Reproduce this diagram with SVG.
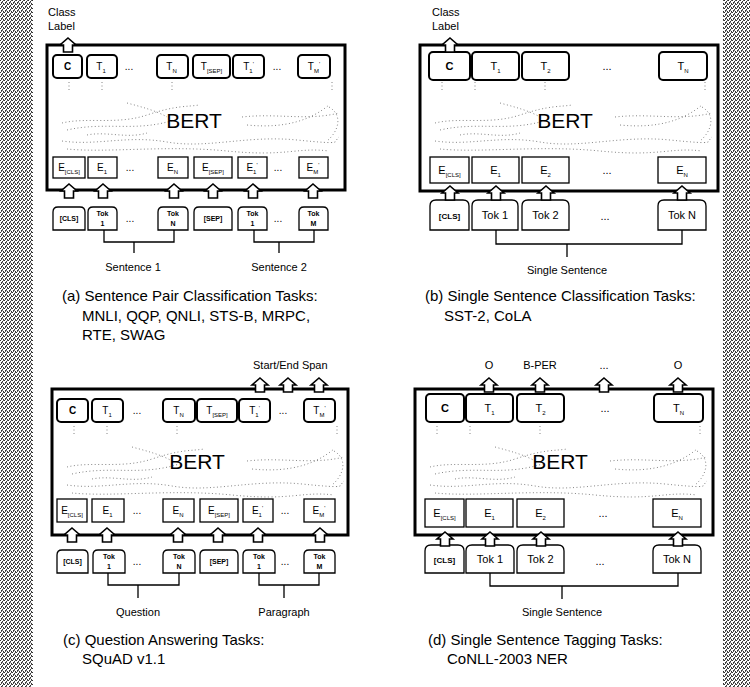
<svg xmlns="http://www.w3.org/2000/svg" width="750" height="687" viewBox="0 0 750 687">
<style>
text{font-family:"Liberation Sans",Arial,Helvetica,sans-serif;fill:#000}
.c{text-anchor:middle}
.l{font-size:11px}
.m{font-size:10px}
.t{font-size:7px;font-weight:bold}
.s{font-size:6px}
.cap{font-size:15px}
.bert{font-size:21px;text-anchor:middle}
.outer{fill:#fff;stroke:#000;stroke-width:3}
.tb{fill:#fff;stroke:#000;stroke-width:2}
.eb{fill:#fff;stroke:#000;stroke-width:1.3}
.tk{fill:#fff;stroke:#000;stroke-width:1.3}
.br{fill:none;stroke:#000;stroke-width:1.3}
.dots{fill:none;stroke:#777;stroke-width:0.9;stroke-dasharray:1 2.5}
.arr{fill:#fff;stroke:#000;stroke-width:1.6;stroke-linejoin:miter}
</style>
<defs>
<pattern id="stip" width="4" height="4" patternUnits="userSpaceOnUse">
<rect width="4" height="4" fill="#fff"/>
<rect x="0" y="0" width="1" height="1" fill="#333"/>
<rect x="2" y="1" width="1" height="1" fill="#333"/>
<rect x="1" y="2" width="1" height="1" fill="#333"/>
<rect x="3" y="3" width="1" height="1" fill="#333"/>
<rect x="3" y="0" width="1" height="1" fill="#555"/>
<rect x="1" y="3" width="1" height="1" fill="#555"/>
<rect x="2" y="2" width="1" height="1" fill="#777"/>
</pattern>
<path id="up" class="arr" d="M0,0 L8,7 L4.5,7 L4.5,14 L-4.5,14 L-4.5,7 L-8,7 Z"/>
<g id="bertdots" class="dots">
<path d="M22,37 V47 M55,37 V47 M125,37 V47 M285,37 V47"/>
<path d="M15,78 C40,72 70,80 100,70 S140,62 152,60"/>
<path d="M20,85 C60,76 90,88 130,74"/>
<path d="M80,58 C95,62 110,66 120,72"/>
<path d="M195,72 C230,68 260,76 292,68"/>
<path d="M200,80 C240,84 265,74 282,60"/>
<path d="M282,62 C296,70 292,86 280,96"/>
<path d="M15,96 C50,101 80,90 120,97 S200,90 250,95 S285,97 292,92"/>
<path d="M20,104 C60,108 120,100 180,106 S250,102 282,106"/>
<path d="M40,90 C60,86 80,94 100,88"/>
</g>
</defs>

<rect x="0" y="0" width="33" height="687" fill="url(#stip)"/>
<rect x="723" y="0" width="27" height="687" fill="url(#stip)"/>

<!-- Panel A -->
<g id="panel-a">
<rect id="a-bert" class="outer" x="47" y="45" width="298" height="145"/>
<use href="#bertdots" transform="translate(47,45)"/>
<text class="bert" x="194" y="128">BERT</text>
<text class="l" x="48" y="16">Class</text>
<text class="l" x="48" y="30">Label</text>
<g id="a-C"><rect class="tb" x="53" y="55" width="29" height="23" rx="4"/><text class="m c" x="67.5" y="70" font-weight="bold">C</text></g>
<g id="a-T1"><rect class="tb" x="87" y="55" width="30" height="23" rx="4"/><text class="m c" x="101" y="70">T<tspan class="s" dy="3">1</tspan></text></g>
<text class="m c" x="129" y="70">...</text>
<g id="a-TN"><rect class="tb" x="157" y="55" width="31" height="23" rx="4"/><text class="m c" x="171.5" y="70">T<tspan class="s" dy="3">N</tspan></text></g>
<g id="a-TSEP"><rect class="tb" x="193" y="55" width="37" height="23" rx="4"/><text class="m c" x="211.5" y="70">T<tspan class="s" dy="3">[SEP]</tspan></text></g>
<g id="a-T1p"><rect class="tb" x="233" y="55" width="31" height="23" rx="4"/><text class="m c" x="248.5" y="70">T<tspan class="s" dy="3">1</tspan><tspan class="s" dy="-7">'</tspan></text></g>
<text class="m c" x="277" y="70">...</text>
<g id="a-TMp"><rect class="tb" x="298" y="55" width="32" height="23" rx="4"/><text class="m c" x="314" y="70">T<tspan class="s" dy="3">M</tspan><tspan class="s" dy="-7">'</tspan></text></g>
<g id="a-ECLS"><rect class="eb" x="53" y="157" width="32" height="21"/><text class="m c" x="69" y="171">E<tspan class="s" dy="3">[CLS]</tspan></text></g>
<g id="a-E1"><rect class="eb" x="88" y="157" width="29" height="21"/><text class="m c" x="102" y="171">E<tspan class="s" dy="3">1</tspan></text></g>
<text class="m c" x="130" y="171">...</text>
<g id="a-EN"><rect class="eb" x="158" y="157" width="30" height="21"/><text class="m c" x="172.5" y="171">E<tspan class="s" dy="3">N</tspan></text></g>
<g id="a-ESEP"><rect class="eb" x="194" y="157" width="38" height="21"/><text class="m c" x="213" y="171">E<tspan class="s" dy="3">[SEP]</tspan></text></g>
<g id="a-E1p"><rect class="eb" x="238" y="157" width="29" height="21"/><text class="m c" x="252" y="171">E<tspan class="s" dy="3">1</tspan><tspan class="s" dy="-7">'</tspan></text></g>
<text class="m c" x="278" y="171">...</text>
<g id="a-EMp"><rect class="eb" x="299" y="157" width="29" height="21"/><text class="m c" x="313" y="171">E<tspan class="s" dy="3">M</tspan><tspan class="s" dy="-7">'</tspan></text></g>
<g id="a-tCLS"><path class="tk" d="M53,230 V212 Q53,207 58,207 H80 Q85,207 85,212 V230 Z"/><text class="t c" x="69" y="221">[CLS]</text></g>
<g id="a-tTok1"><path class="tk" d="M88,230 V212 Q88,207 93,207 H112 Q117,207 117,212 V230 Z"/><text class="t c" x="102.5" y="216">Tok</text><text class="t c" x="102.5" y="226">1</text></g>
<text class="m c" x="130" y="222">...</text>
<g id="a-tTokN"><path class="tk" d="M158,230 V212 Q158,207 163,207 H183 Q188,207 188,212 V230 Z"/><text class="t c" x="173" y="216">Tok</text><text class="t c" x="173" y="226">N</text></g>
<g id="a-tSEP"><path class="tk" d="M194,230 V212 Q194,207 199,207 H227 Q232,207 232,212 V230 Z"/><text class="t c" x="213" y="221">[SEP]</text></g>
<g id="a-tTok1b"><path class="tk" d="M238,230 V212 Q238,207 243,207 H262 Q267,207 267,212 V230 Z"/><text class="t c" x="252.5" y="216">Tok</text><text class="t c" x="252.5" y="226">1</text></g>
<text class="m c" x="278" y="222">...</text>
<g id="a-tTokM"><path class="tk" d="M299,230 V212 Q299,207 304,207 H323 Q328,207 328,212 V230 Z"/><text class="t c" x="313.5" y="216">Tok</text><text class="t c" x="313.5" y="226">M</text></g>
<text class="l c" x="133" y="271">Sentence 1</text>
<text class="l c" x="279" y="271">Sentence 2</text>
<text class="cap" x="62" y="301">(a) Sentence Pair Classification Tasks:</text>
<text class="cap" x="82" y="321">MNLI, QQP, QNLI, STS-B, MRPC,</text>
<text class="cap" x="82" y="340">RTE, SWAG</text>
</g>

<!-- Panel B -->
<g id="panel-b">
<rect id="b-bert" class="outer" x="420" y="45" width="298" height="146"/>
<use href="#bertdots" transform="translate(420,45)"/>
<text class="bert" x="565" y="128">BERT</text>
<text class="l" x="432" y="16">Class</text>
<text class="l" x="432" y="30">Label</text>
<g id="b-C"><rect class="tb" x="429" y="52" width="41" height="28" rx="4"/><text class="l c" x="449.5" y="70" font-weight="bold">C</text></g>
<g id="b-T1"><rect class="tb" x="472" y="52" width="47" height="28" rx="4"/><text class="l c" x="495.5" y="70">T<tspan class="s" dy="3">1</tspan></text></g>
<g id="b-T2"><rect class="tb" x="522" y="52" width="47" height="28" rx="4"/><text class="l c" x="545.5" y="70">T<tspan class="s" dy="3">2</tspan></text></g>
<text class="l c" x="607" y="70">...</text>
<g id="b-TN"><rect class="tb" x="659" y="52" width="48" height="28" rx="4"/><text class="l c" x="683" y="70">T<tspan class="s" dy="3">N</tspan></text></g>
<g id="b-ECLS"><rect class="eb" x="430" y="157" width="39" height="26"/><text class="l c" x="449.5" y="174">E<tspan class="s" dy="3">[CLS]</tspan></text></g>
<g id="b-E1"><rect class="eb" x="472" y="157" width="47" height="26"/><text class="l c" x="495.5" y="174">E<tspan class="s" dy="3">1</tspan></text></g>
<g id="b-E2"><rect class="eb" x="522" y="157" width="47" height="26"/><text class="l c" x="545.5" y="174">E<tspan class="s" dy="3">2</tspan></text></g>
<text class="l c" x="607" y="174">...</text>
<g id="b-EN"><rect class="eb" x="658" y="157" width="48" height="26"/><text class="l c" x="682" y="174">E<tspan class="s" dy="3">N</tspan></text></g>
<g id="b-tCLS"><path class="tk" d="M430,230 V206 Q430,200 436,200 H463 Q469,200 469,206 V230 Z"/><text class="t c" x="449.5" y="219" style="font-size:8px">[CLS]</text></g>
<g id="b-tTok1"><path class="tk" d="M472,230 V206 Q472,200 478,200 H512 Q518,200 518,206 V230 Z"/><text class="l c" x="495" y="219">Tok 1</text></g>
<g id="b-tTok2"><path class="tk" d="M522,230 V206 Q522,200 528,200 H563 Q569,200 569,206 V230 Z"/><text class="l c" x="545.5" y="219">Tok 2</text></g>
<text class="l c" x="605" y="220">...</text>
<g id="b-tTokN"><path class="tk" d="M658,230 V206 Q658,200 664,200 H700 Q706,200 706,206 V230 Z"/><text class="l c" x="682" y="219">Tok N</text></g>
<text class="l c" x="567" y="274">Single Sentence</text>
<text class="cap" x="425" y="301">(b) Single Sentence Classification Tasks:</text>
<text class="cap" x="444" y="321">SST-2, CoLA</text>
</g>

<!-- Panel C -->
<g id="panel-c">
<rect id="c-bert" class="outer" x="52" y="389" width="296" height="146"/>
<use href="#bertdots" transform="translate(52,389)"/>
<text class="bert" x="197" y="469">BERT</text>
<text class="l" x="253" y="369">Start/End Span</text>
<g id="c-C"><rect class="tb" x="57" y="399" width="31" height="23" rx="4"/><text class="m c" x="72.5" y="414" font-weight="bold">C</text></g>
<g id="c-T1"><rect class="tb" x="92" y="399" width="31" height="23" rx="4"/><text class="m c" x="107" y="414">T<tspan class="s" dy="3">1</tspan></text></g>
<text class="m c" x="137" y="414">...</text>
<g id="c-TN"><rect class="tb" x="163" y="399" width="32" height="23" rx="4"/><text class="m c" x="178.5" y="414">T<tspan class="s" dy="3">N</tspan></text></g>
<g id="c-TSEP"><rect class="tb" x="197" y="399" width="40" height="23" rx="4"/><text class="m c" x="217" y="414">T<tspan class="s" dy="3">[SEP]</tspan></text></g>
<g id="c-T1p"><rect class="tb" x="239" y="399" width="31" height="23" rx="4"/><text class="m c" x="254.5" y="414">T<tspan class="s" dy="3">1</tspan><tspan class="s" dy="-7">'</tspan></text></g>
<text class="m c" x="283" y="414">...</text>
<g id="c-TMp"><rect class="tb" x="304" y="399" width="31" height="23" rx="4"/><text class="m c" x="319.5" y="414">T<tspan class="s" dy="3">M</tspan><tspan class="s" dy="-7">'</tspan></text></g>
<g id="c-ECLS"><rect class="eb" x="57" y="499" width="30" height="23"/><text class="m c" x="72" y="514">E<tspan class="s" dy="3">[CLS]</tspan></text></g>
<g id="c-E1"><rect class="eb" x="92" y="499" width="32" height="23"/><text class="m c" x="107.5" y="514">E<tspan class="s" dy="3">1</tspan></text></g>
<text class="m c" x="137" y="514">...</text>
<g id="c-EN"><rect class="eb" x="163" y="499" width="31" height="23"/><text class="m c" x="178" y="514">E<tspan class="s" dy="3">N</tspan></text></g>
<g id="c-ESEP"><rect class="eb" x="200" y="499" width="38" height="23"/><text class="m c" x="219" y="514">E<tspan class="s" dy="3">[SEP]</tspan></text></g>
<g id="c-E1p"><rect class="eb" x="243" y="499" width="30" height="23"/><text class="m c" x="257.5" y="514">E<tspan class="s" dy="3">1</tspan><tspan class="s" dy="-7">'</tspan></text></g>
<text class="m c" x="285" y="514">...</text>
<g id="c-EMp"><rect class="eb" x="304" y="499" width="31" height="23"/><text class="m c" x="319" y="514">E<tspan class="s" dy="3">M</tspan><tspan class="s" dy="-7">'</tspan></text></g>
<g id="c-tCLS"><path class="tk" d="M57,573 V555 Q57,550 62,550 H83 Q88,550 88,555 V573 Z"/><text class="t c" x="72.5" y="564">[CLS]</text></g>
<g id="c-tTok1"><path class="tk" d="M93,573 V555 Q93,550 98,550 H120 Q125,550 125,555 V573 Z"/><text class="t c" x="109" y="559">Tok</text><text class="t c" x="109" y="569">1</text></g>
<text class="m c" x="137" y="565">...</text>
<g id="c-tTokN"><path class="tk" d="M163,573 V555 Q163,550 168,550 H190 Q195,550 195,555 V573 Z"/><text class="t c" x="179" y="559">Tok</text><text class="t c" x="179" y="569">N</text></g>
<g id="c-tSEP"><path class="tk" d="M200,573 V555 Q200,550 205,550 H233 Q238,550 238,555 V573 Z"/><text class="t c" x="219" y="564">[SEP]</text></g>
<g id="c-tTok1b"><path class="tk" d="M243,573 V555 Q243,550 248,550 H270 Q275,550 275,555 V573 Z"/><text class="t c" x="259" y="559">Tok</text><text class="t c" x="259" y="569">1</text></g>
<text class="m c" x="285" y="565">...</text>
<g id="c-tTokM"><path class="tk" d="M304,573 V555 Q304,550 309,550 H330 Q335,550 335,555 V573 Z"/><text class="t c" x="319.5" y="559">Tok</text><text class="t c" x="319.5" y="569">M</text></g>
<text class="l c" x="138" y="616">Question</text>
<text class="l c" x="284" y="616">Paragraph</text>
<text class="cap" x="63" y="645">(c) Question Answering Tasks:</text>
<text class="cap" x="82" y="664">SQuAD v1.1</text>
</g>

<!-- Panel D -->
<g id="panel-d">
<rect id="d-bert" class="outer" x="415" y="389" width="298" height="146"/>
<use href="#bertdots" transform="translate(415,389)"/>
<text class="bert" x="560" y="469">BERT</text>
<text class="l c" x="489" y="369">O</text>
<text class="l c" x="540" y="369">B-PER</text>
<text class="l c" x="604" y="369">...</text>
<text class="l c" x="678" y="369">O</text>
<g id="d-C"><rect class="tb" x="426" y="394" width="38" height="28" rx="4"/><text class="l c" x="445" y="412" font-weight="bold">C</text></g>
<g id="d-T1"><rect class="tb" x="466" y="394" width="47" height="28" rx="4"/><text class="l c" x="489.5" y="412">T<tspan class="s" dy="3">1</tspan></text></g>
<g id="d-T2"><rect class="tb" x="517" y="394" width="47" height="28" rx="4"/><text class="l c" x="540.5" y="412">T<tspan class="s" dy="3">2</tspan></text></g>
<text class="l c" x="605" y="412">...</text>
<g id="d-TN"><rect class="tb" x="654" y="394" width="49" height="28" rx="4"/><text class="l c" x="678.5" y="412">T<tspan class="s" dy="3">N</tspan></text></g>
<g id="d-ECLS"><rect class="eb" x="425" y="499" width="39" height="28"/><text class="l c" x="444.5" y="517">E<tspan class="s" dy="3">[CLS]</tspan></text></g>
<g id="d-E1"><rect class="eb" x="466" y="499" width="47" height="28"/><text class="l c" x="489.5" y="517">E<tspan class="s" dy="3">1</tspan></text></g>
<g id="d-E2"><rect class="eb" x="517" y="499" width="47" height="28"/><text class="l c" x="540.5" y="517">E<tspan class="s" dy="3">2</tspan></text></g>
<text class="l c" x="603" y="517">...</text>
<g id="d-EN"><rect class="eb" x="653" y="499" width="48" height="28"/><text class="l c" x="677" y="517">E<tspan class="s" dy="3">N</tspan></text></g>
<g id="d-tCLS"><path class="tk" d="M425,573 V551 Q425,545 431,545 H458 Q464,545 464,551 V573 Z"/><text class="t c" x="444.5" y="563" style="font-size:8px">[CLS]</text></g>
<g id="d-tTok1"><path class="tk" d="M466,573 V551 Q466,545 472,545 H508 Q514,545 514,551 V573 Z"/><text class="l c" x="490" y="563">Tok 1</text></g>
<g id="d-tTok2"><path class="tk" d="M517,573 V551 Q517,545 523,545 H558 Q564,545 564,551 V573 Z"/><text class="l c" x="540.5" y="563">Tok 2</text></g>
<text class="l c" x="600" y="565">...</text>
<g id="d-tTokN"><path class="tk" d="M653,573 V551 Q653,545 659,545 H695 Q701,545 701,551 V573 Z"/><text class="l c" x="677" y="563">Tok N</text></g>
<text class="l c" x="562" y="616">Single Sentence</text>
<text class="cap" x="428" y="645">(d) Single Sentence Tagging Tasks:</text>
<text class="cap" x="447" y="664">CoNLL-2003 NER</text>
</g>

<!-- Connectors -->
<g id="connectors">
<path class="br" d="M104,230 V242 H174 V230 M134,242 V253"/>
<path class="br" d="M254,230 V242 H314 V230 M279,242 V253"/>
<path class="br" d="M496,230 V244 H682 V230 M567,244 V257"/>
<path class="br" d="M108,573 V585 H179 V573 M138,585 V598"/>
<path class="br" d="M259,573 V585 H319 V573 M284,585 V598"/>
<path class="br" d="M490,573 V586 H678 V573 M562,586 V599"/>
<use href="#up" x="68" y="38"/>
<use href="#up" x="69" y="184"/>
<use href="#up" x="103" y="184"/>
<use href="#up" x="174" y="184"/>
<use href="#up" x="213" y="184"/>
<use href="#up" x="253" y="184"/>
<use href="#up" x="313" y="184"/>
<use href="#up" x="450" y="38"/>
<use href="#up" x="450" y="186"/>
<use href="#up" x="496" y="186"/>
<use href="#up" x="546" y="186"/>
<use href="#up" x="682" y="186"/>
<use href="#up" x="260" y="378"/>
<use href="#up" x="288" y="378"/>
<use href="#up" x="319" y="378"/>
<use href="#up" x="72" y="528"/>
<use href="#up" x="107" y="528"/>
<use href="#up" x="178" y="528"/>
<use href="#up" x="218" y="528"/>
<use href="#up" x="258" y="528"/>
<use href="#up" x="320" y="528"/>
<use href="#up" x="489" y="378"/>
<use href="#up" x="540" y="378"/>
<use href="#up" x="604" y="378"/>
<use href="#up" x="678" y="378"/>
<use href="#up" x="445" y="532"/>
<use href="#up" x="490" y="532"/>
<use href="#up" x="541" y="532"/>
<use href="#up" x="678" y="532"/>
</g>
</svg>
